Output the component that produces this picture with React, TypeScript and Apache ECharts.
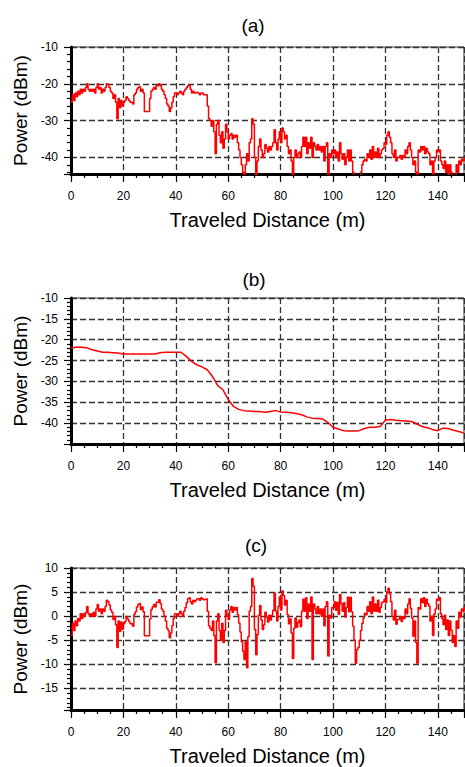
import React, { useEffect, useRef } from "react";
import * as echarts from "echarts";

// ---- data ----
const STEP_A = 0.5; // m between samples of panel (a) and (c)
const STEP_B = 2; // m between samples of panel (b)

const TITLES = ["(a)", "(b)", "(c)"];
const X_NAME = "Traveled Distance (m)";
const Y_NAME = "Power (dBm)";

// (a) total received power, dBm, x = 0..150 step 0.5
const POWER_A = [
  -25, -23, -24.5, -22.5, -23.5, -22, -23, -21.5, -22.5, -21.5,
  -22, -21, -20, -21.5, -22, -21.5, -22, -21.5, -22.5, -21,
  -20, -21.5, -21, -22.5, -21.5, -22, -21, -20, -20.2, -21,
  -22, -22.5, -24, -23, -25, -29.5, -24, -26.5, -24.5, -26,
  -25, -24.5, -23.5, -24, -24.5, -25, -25, -25.5, -23, -22.5,
  -21.5, -21, -20.8, -22, -21.5, -22.5, -27.5, -27.5, -27.5, -27.5,
  -24, -22, -21.5, -21, -21.5, -20.5, -20.5, -20, -20.5, -21.5,
  -22, -23, -24, -25.5, -26, -27.5, -26.5, -25, -23.5, -22.5,
  -22.5, -23, -22.5, -22, -22.5, -23, -22, -21.5, -21, -20.5,
  -20.3, -21.5, -22.5, -22, -22.5, -22.5, -22.3, -22.5, -23, -22.5,
  -22.5, -23, -23, -23, -26, -29.5, -30, -31.5, -30, -33,
  -39, -31, -30, -34, -36, -33, -37.5, -35, -31, -33,
  -35, -34, -33.5, -35, -34, -34.5, -34, -36, -38, -40,
  -42, -44, -46, -42, -39, -41, -36, -35, -29.5, -31,
  -40, -46, -41, -37, -35, -38, -40, -39, -36.5, -37.5,
  -38.5, -37, -38, -37, -36, -32.5, -36, -38, -35, -33,
  -36, -32, -33, -35, -34, -37, -39, -38, -41, -46,
  -40, -38, -40, -39, -38.5, -40, -37, -34.5, -37, -34.5,
  -39, -36, -37.5, -34.5, -40, -36, -37, -38, -36.5, -38,
  -37, -38.5, -37, -41, -37, -36, -46, -39, -40, -38,
  -39, -38, -40, -38.5, -41, -36, -39, -40.5, -39, -42,
  -40, -38, -41, -38, -41, -44, -46, -47, -47, -47,
  -46, -44, -42, -41, -40.5, -41, -39, -40, -38, -40.5,
  -37, -40, -38.5, -40, -37.5, -40, -39, -38, -37.5, -36,
  -36.5, -34, -33, -34.5, -36, -39, -40, -38, -41, -40,
  -40, -39.5, -40.5, -39.5, -40, -38, -39, -37, -36, -38,
  -40, -42, -41, -44, -46, -38, -38.5, -37, -38, -37,
  -39, -37.5, -38.5, -39, -42, -41, -46, -41, -40, -38,
  -38.5, -38, -41, -42, -43, -41, -44, -42, -46, -42,
  -44, -46, -45, -46, -42, -44, -41, -42, -40.5, -41,
  -40,
];

// (b) local mean power, dBm, x = 0..150 step 2
const POWER_B = [
  -22, -21.8, -21.8, -21.9, -22.4, -22.7, -23, -23, -23.1, -23.2,
  -23.4, -23.4, -23.4, -23.4, -23.4, -23.4, -23.4, -23.1, -23, -23,
  -23, -23, -24, -25.2, -26, -26.5, -27.2, -28.8, -31, -32,
  -34.3, -36, -36.7, -37, -37.1, -37.2, -37.2, -37.4, -37.2, -37,
  -37.3, -37.4, -37.5, -37.7, -38, -38.5, -38.8, -38.9, -39, -39.8,
  -41, -41.4, -41.8, -41.9, -41.9, -41.8, -41.3, -41, -41, -40.8,
  -39.3, -39.1, -39.3, -39.4, -39.5, -39.6, -40.2, -40.8, -41.1, -41.5,
  -41.8, -41.2, -41.3, -41.7, -42, -42.4,
];

// (c) small-scale fading, dB, x = 0..150 step 0.5
const POWER_C = [
  -4, -1.5, -3, -1, -2, -0.5, -1, 0.5, -0.5, 0.5,
  0, 0.8, 2, 0.5, 0, 0.5, 0, 0.8, 0, 1.5,
  2.4, 1, 1.5, 0.5, 1.5, 1, 2, 3.3, 3, 2.3,
  1.3, 0.8, -0.7, 0, -1.8, -6.5, -1, -3.2, -1.2, -2.7,
  -1.6, -1.1, -0.1, -0.6, -1.1, -1.6, -1.6, -2.1, 0.4, 0.9,
  1.9, 2.4, 2.6, 1.4, 1.9, 0.9, -4.1, -4.1, -4.1, -4.1,
  -0.6, 1.4, 1.9, 2.4, 1.9, 2.9, 2.9, 3.4, 2.6, 1.5,
  1, 0, -1, -2.5, -3, -4.5, -3.5, -2, -0.5, 0.5,
  0.5, 0, 0.5, 1, 0.5, 0, 1, 1.8, 2.8, 3.6,
  3.8, 3, 2.5, 3.3, 3, 3.3, 3.6, 3.6, 3.3, 3.8,
  3.6, 3.4, 3.5, 3.6, 1, -2, -2.5, -3, -1, -4,
  -9.7, -1, 0.5, -3, -5, -1.5, -5.5, -3, 1.2, 0,
  -0.7, 1.3, 2, 0.8, 1.8, 1.3, 1.8, 0.3, -1.5, -3.3,
  -5.3, -7.3, -9, -5.3, -10.7, -4.3, 1, 2, 7.8, 6.2,
  -2.8, -8, -3.8, 0.2, 2.2, -0.8, -2.8, -1.8, 0.8, -0.2,
  -1.2, 0.2, -0.8, 0.2, 1.2, 4.8, 1, -1, 2, 4,
  1.3, 5.2, 4.3, 2.3, 3.3, 0.3, -1.6, -0.6, -3.5, -8.8,
  -2.5, -0.4, -2.3, -1.3, -0.8, -2.2, 1, 3.5, 1, 3.8,
  -0.5, 2.5, 1, 4, -9, 2.5, 1.5, 0.5, 2, 0.5,
  1.5, 0, 1.5, -2, 2, 3, -8.3, 0.2, -0.4, 1.8,
  1.8, 3, 1.2, 2.9, 0.4, 4.5, 2.5, 1, 2.8, -0.2,
  1.8, 3.9, 0.9, 3.9, 0.9, -2.1, -5, -9.8, -7, -6.5,
  -5, -3, -1.5, -0.4, 0.6, 0.3, 2, 1, 3, 0.5,
  4, 1, 2.5, 1, 3.3, 0.8, 1.8, 2.8, 3, 3.5,
  2.8, 5, 5.8, 4.6, 3, 0, -0.8, 1.2, -1.7, -0.7,
  -0.6, -0.1, -1.1, -0.1, -0.5, 1.5, 0.5, 2.5, 3.6, 1.6,
  -0.4, -4.2, -1, -5.5, -9.8, 1.8, 1.5, 3.6, 2.8, 3.8,
  2, 3.5, 2.6, 2.1, -1, 0, -4, 0.4, 1.5, 3.5,
  3.3, 3.8, 0.5, -0.5, -1.8, 0.2, -2.8, -0.8, -4, -1,
  -3, -5.5, -4, -6.3, -1, -2.5, 0.8, -0.2, 1.5, 1,
  2,
];

// axis ranges
const X_MIN = 0;
const X_MAX = 150;
const X_INTERVAL = 20;
const Y_RANGES = [
  { min: -44.5, max: -10, splitNumber: 3, minor: 5 },
  { min: -45, max: -10, interval: 5, minor: 5 },
  { min: -19.5, max: 10, splitNumber: 6, minor: 5 },
];

const FONT = "'Liberation Sans', Arial, sans-serif";

const GRIDS = [
  { left: 71, top: 47, width: 393, height: 127 },
  { left: 71, top: 298, width: 393, height: 146 },
  { left: 71, top: 568, width: 393, height: 143 },
];
const TITLE_POS = [
  [253, 25],
  [254, 279],
  [256, 545],
];
const STEP_MODE = ["end", false, "end"];

function toPairs(vals: number[], step: number) {
  return vals.map((v, i) => [i * step, v]);
}

export default function App() {
  const ref = useRef<HTMLDivElement>(null);
  useEffect(() => {
    if (!ref.current) return;
    const chart = echarts.init(ref.current, undefined, { renderer: "svg" });
    const series = [
      toPairs(POWER_A, STEP_A),
      toPairs(POWER_B, STEP_B),
      toPairs(POWER_C, STEP_A),
    ];
    const gridLine = { show: true, lineStyle: { color: "#333", type: [6, 3], width: 1.3 } };
    const option: any = {
      animation: false,
      backgroundColor: "#fff",
      textStyle: { fontFamily: FONT },
      grid: GRIDS.map((g) => ({
        ...g,
        show: true,
        borderColor: "#333",
        borderWidth: 1,
        backgroundColor: "transparent",
      })),
      xAxis: GRIDS.map((_, i) => ({
        type: "value",
        gridIndex: i,
        min: X_MIN,
        max: X_MAX,
        interval: X_INTERVAL,
        name: X_NAME,
        nameLocation: "middle",
        nameGap: 36,
        nameTextStyle: { fontSize: 20, color: "#000", fontFamily: FONT },
        axisLine: { show: true, onZero: false, lineStyle: { color: "#000", width: 3 } },
        axisTick: { show: true, length: 8, lineStyle: { color: "#000", width: 1.2 } },
        minorTick: { show: true, splitNumber: 4, length: 4, lineStyle: { color: "#000", width: 1.2 } },
        splitLine: gridLine,
        axisLabel: { color: "#000", fontSize: 12, margin: 16, showMaxLabel: false, fontFamily: FONT },
      })),
      yAxis: Y_RANGES.map((r, i) => ({
        type: "value",
        gridIndex: i,
        min: r.min,
        max: r.max,
        ...(r.interval ? { interval: r.interval } : { splitNumber: r.splitNumber }),
        name: Y_NAME,
        nameLocation: "middle",
        nameGap: 38,
        nameTextStyle: { fontSize: 19, color: "#000", fontFamily: FONT },
        axisLine: { show: true, onZero: false, lineStyle: { color: "#000", width: 3 } },
        axisTick: { show: true, length: 7, lineStyle: { color: "#000", width: 1.2 } },
        minorTick: { show: true, splitNumber: r.minor, length: 4, lineStyle: { color: "#000", width: 1.2 } },
        splitLine: gridLine,
        axisLabel: { color: "#000", fontSize: 12, margin: 13, showMinLabel: false, fontFamily: FONT },
      })),
      series: series.map((d, i) => ({
        type: "line",
        xAxisIndex: i,
        yAxisIndex: i,
        data: d,
        step: STEP_MODE[i],
        showSymbol: false,
        symbol: "none",
        clip: true,
        lineStyle: { color: "#ff0000", width: 1.5 },
        z: 3,
      })),
      graphic: TITLES.map((t, i) => ({
        type: "text",
        x: TITLE_POS[i][0],
        y: TITLE_POS[i][1],
        style: {
          text: t,
          fontSize: 19,
          fontFamily: FONT,
          fill: "#000",
          textAlign: "center",
          textVerticalAlign: "middle",
        },
      })),
    };
    chart.setOption(option);
    return () => chart.dispose();
  }, []);
  return (
    <div
      ref={ref}
      style={{ position: "absolute", left: 0, top: 0, width: 465, height: 767 }}
    />
  );
}
